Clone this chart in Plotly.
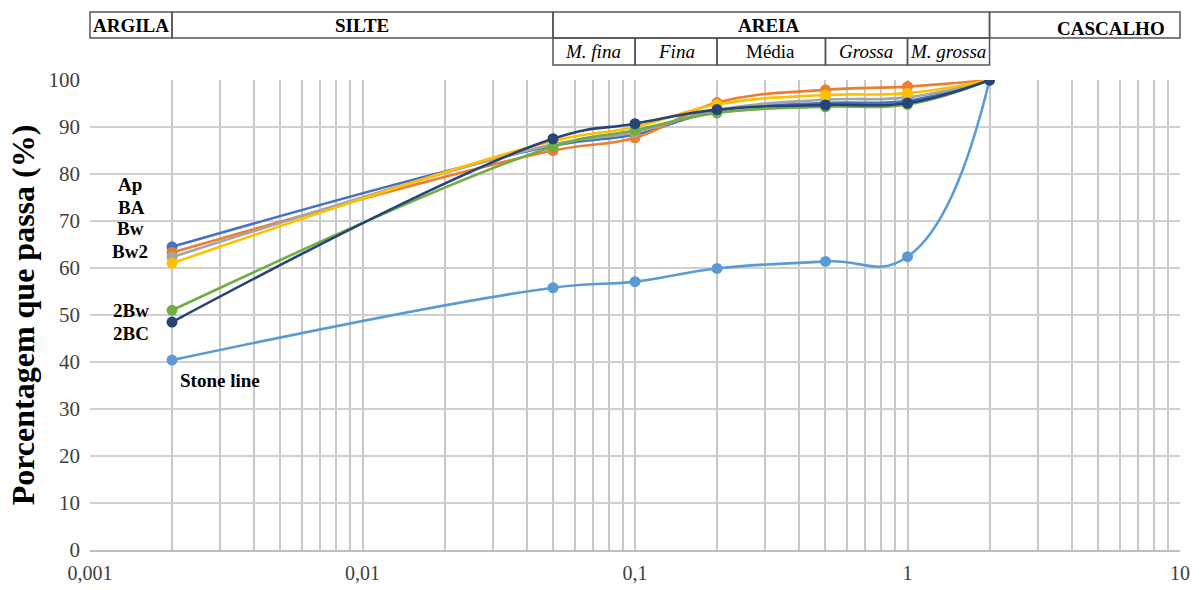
import math
import plotly.graph_objects as go

# ---------------- data ----------------
diam = [0.002, 0.05, 0.1, 0.2, 0.5, 1, 2]
series_names = ["Ap", "BA", "Bw", "Bw2", "Stone line", "2Bw", "2BC"]
ap = [64.5, 86.0, 88.4, 93.4, 95.1, 95.6, 100]
ba = [63.3, 85.0, 87.7, 95.2, 97.9, 98.6, 100]
bw = [62.3, 86.3, 88.9, 93.6, 95.8, 96.3, 100]
bw2 = [61.0, 87.0, 90.0, 94.8, 96.8, 97.2, 100]
stone = [40.4, 55.8, 57.1, 59.9, 61.4, 62.4, 100]
bw_2 = [51.0, 85.8, 89.3, 93.0, 94.3, 94.8, 100]
bc_2 = [48.5, 87.5, 90.7, 93.7, 94.7, 95.1, 100]
values = [ap, ba, bw, bw2, stone, bw_2, bc_2]
colors = ["#4472C4", "#ED7D31", "#A5A5A5", "#FFC000", "#5B9BD5", "#70AD47", "#264478"]
smooth = [1.2, 1.2, 1.2, 1.2, 1.3, 1.2, 1.2]

x_tickvals = [0.001, 0.01, 0.1, 1, 10]
x_ticktext = ["0,001", "0,01", "0,1", "1", "10"]

# header table (fractions)
top_labels = ["ARGILA", "SILTE", "AREIA", "CASCALHO"]
top_bounds = [(0.001, 0.002), (0.002, 0.05), (0.05, 2), (2, 10)]
sub_labels = ["M. fina", "Fina", "Média", "Grossa", "M. grossa"]
sub_bounds = [(0.05, 0.1), (0.1, 0.2), (0.2, 0.5), (0.5, 1), (1, 2)]
sub_italic = [True, True, False, True, True]

# left-side labels
left_labels = ["Ap", "BA", "Bw", "Bw2", "2Bw", "2BC", "Stone line"]

FONT = "Times New Roman, Liberation Serif, serif"
W, H = 1202, 590
L, R, T, B = 90, 22, 80, 40
PW, PH = W - L - R, H - T - B


def xp(v):
    return (math.log10(v) + 3) / 4


def py(pix):  # pixel row -> paper y
    return (H - B - pix) / PH


def pxp(pix):  # pixel column -> paper x
    return (pix - L) / PW


fig = go.Figure()
for name, vals, col, sm in zip(series_names, values, colors, smooth):
    fig.add_trace(go.Scatter(
        x=diam, y=vals, name=name, mode="lines+markers",
        line=dict(color=col, width=2.6, shape="spline", smoothing=sm),
        marker=dict(color=col, size=11),
        showlegend=False,
    ))

minor_vals = [k * 10 ** e for e in range(-3, 1) for k in range(2, 10)]

fig.update_xaxes(
    type="log", range=[-3, 1],
    tickvals=x_tickvals, ticktext=x_ticktext,
    showgrid=True, gridcolor="#c8c8c8", gridwidth=1.6,
    minor=dict(tickvals=minor_vals, showgrid=True, gridcolor="#c8c8c8", gridwidth=1.6, ticks=""),
    showline=True, linecolor="#bfbfbf", linewidth=2,
    ticks="", zeroline=False, ticklabelstandoff=4, automargin=False,
    tickfont=dict(family=FONT, size=20, color="#404040"),
)
fig.update_yaxes(
    range=[0, 100], dtick=10,
    showgrid=True, gridcolor="#d0d0d0", gridwidth=1.5,
    zeroline=False, ticks="", ticklabelstandoff=9, automargin=False,
    tickfont=dict(family=FONT, size=21, color="#404040"),
    title=dict(text="<b>Porcentagem que passa (%)</b>", standoff=4,
               font=dict(family=FONT, size=32, color="#000000")),
)

shapes = []
annotations = []
line_style = dict(color="#555555", width=1.5)
r1_top, r1_bot, r2_bot = py(12), py(38), py(65)
for lab, (a, b) in zip(top_labels, top_bounds):
    shapes.append(dict(type="rect", xref="paper", yref="paper", x0=xp(a), x1=xp(b),
                       y0=r1_bot, y1=r1_top, line=line_style, fillcolor="rgba(0,0,0,0)"))
for lab, (a, b), it in zip(sub_labels, sub_bounds, sub_italic):
    shapes.append(dict(type="rect", xref="paper", yref="paper", x0=xp(a), x1=xp(b),
                       y0=r2_bot, y1=r1_bot, line=line_style, fillcolor="rgba(0,0,0,0)"))

# top row labels
top_pos = {"ARGILA": (131, 26), "SILTE": (362, 26), "AREIA": (769, 26), "CASCALHO": (1111, 29)}
for lab in top_labels:
    cx, cy = top_pos[lab]
    annotations.append(dict(text=f"<b>{lab}</b>", xref="paper", yref="paper",
                            x=pxp(cx), y=py(cy), showarrow=False, xanchor="center", yanchor="middle",
                            font=dict(family=FONT, size=19, color="#000000")))
sub_pos = [593, 676, 770, 866, 948]
for lab, cx, it in zip(sub_labels, sub_pos, sub_italic):
    txt = f"<i>{lab}</i>" if it else lab
    annotations.append(dict(text=txt, xref="paper", yref="paper",
                            x=pxp(cx), y=py(52), showarrow=False, xanchor="center", yanchor="middle",
                            font=dict(family=FONT, size=19, color="#000000")))

left_pos = [(130, 184), (131, 207), (130, 228), (130, 251), (131, 310), (131, 333), (220, 380)]
for lab, (cx, cy) in zip(left_labels, left_pos):
    annotations.append(dict(text=f"<b>{lab}</b>", xref="paper", yref="paper",
                            x=pxp(cx), y=py(cy), showarrow=False, xanchor="center", yanchor="middle",
                            font=dict(family=FONT, size=19, color="#000000")))

fig.update_layout(
    width=W, height=H,
    margin=dict(l=L, r=R, t=T, b=B),
    paper_bgcolor="white", plot_bgcolor="white",
    shapes=shapes, annotations=annotations,
    font=dict(family=FONT),
)

fig.write_html("out.html")
